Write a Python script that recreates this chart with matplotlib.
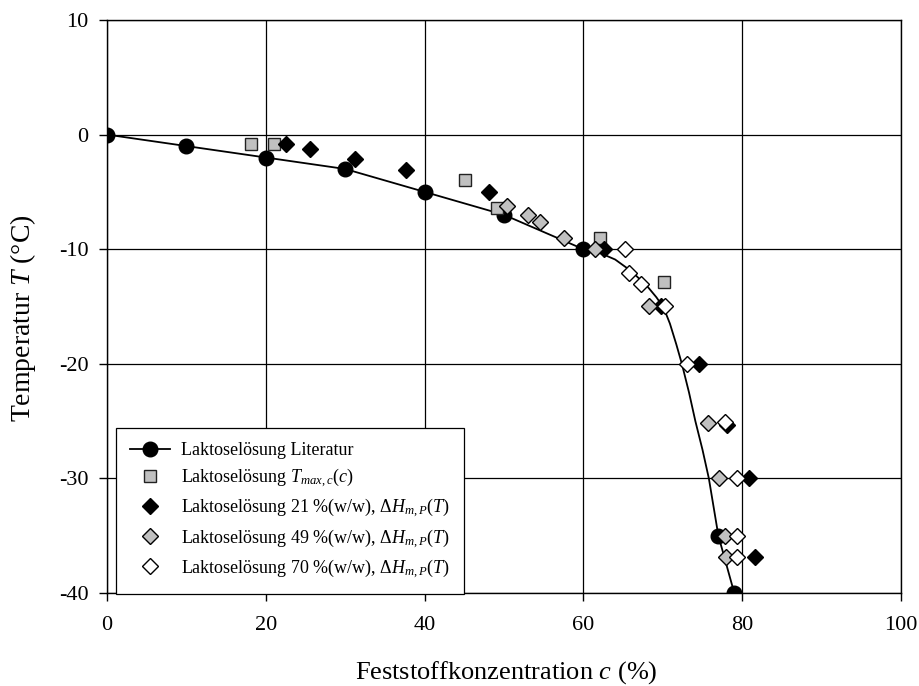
import matplotlib
matplotlib.use("Agg")
import matplotlib.pyplot as plt

plt.rcParams["font.family"] = ["Liberation Serif", "DejaVu Serif"]
plt.rcParams["mathtext.fontset"] = "custom"
plt.rcParams["mathtext.rm"] = "Liberation Serif"
plt.rcParams["mathtext.it"] = "Liberation Serif:italic"
plt.rcParams["axes.unicode_minus"] = False

# Literature values (circles) and the drawn curve through them
lit_c = [0, 10, 20, 30, 40, 50, 60, 77, 79]
lit_T = [0, -1, -2, -3, -5, -7, -10, -35, -40]
curve_c = [0, 10, 20, 30, 40, 50, 60, 62, 64, 66, 68, 69.2, 70.1, 70.9, 71.7,
           72.4, 73.3, 74.1, 75.0, 75.8, 76.4, 77.0, 77.8, 79]
curve_T = [0, -1, -2, -3, -5, -7, -10, -10.3, -10.9, -11.9, -13.2, -14.2, -15.1, -16.5, -18.3,
           -20, -22.5, -25, -27.5, -30, -32.5, -35, -37, -40]

# T_max,c(c)
sq_c = [18.1, 21.0, 45.1, 49.1, 62.1, 70.1]
sq_T = [-0.8, -0.8, -4.0, -6.4, -9.0, -12.9]

# 21 %(w/w)
d21_c = [22.5, 25.6, 31.2, 37.7, 48.1, 62.6, 69.8, 74.6, 78.1, 80.9, 81.6]
d21_T = [-0.8, -1.3, -2.1, -3.05, -5.0, -10.0, -15.0, -20.0, -25.3, -30.0, -36.9]

# 49 %(w/w)
d49_c = [50.4, 53.0, 54.5, 57.6, 61.4, 68.3, 75.7, 77.1, 77.8, 78.0]
d49_T = [-6.2, -7.0, -7.6, -9.0, -10.0, -15.0, -25.2, -30.0, -35.0, -36.9]

# 70 %(w/w)
d70_c = [65.2, 65.8, 67.2, 70.3, 73.1, 77.8, 79.3, 79.3, 79.3]
d70_T = [-10.0, -12.1, -13.0, -15.0, -20.0, -25.1, -30.0, -35.0, -36.9]

x_ticks = [0, 20, 40, 60, 80, 100]
y_ticks = [10, 0, -10, -20, -30, -40]

fig = plt.figure(figsize=(9.19, 6.86), dpi=100)
ax = fig.add_axes([107 / 919, 1 - 593 / 686, 794 / 919, 573 / 686])

ax.plot(curve_c, curve_T, color="black", lw=1.3, zorder=2)
ax.plot(lit_c, lit_T, "o", color="black", ms=10.5, zorder=3)
lit_handle, = ax.plot([], [], "o-", color="black", ms=10.5, lw=1.3)
sq_h, = ax.plot(sq_c, sq_T, "s", ms=8.5, mfc="#c0c0c0", mec="#222222", mew=1.0, ls="none", zorder=4)
d21_h, = ax.plot(d21_c, d21_T, "D", ms=8, mfc="black", mec="black", mew=1.0, ls="none", zorder=5)
d49_h, = ax.plot(d49_c, d49_T, "D", ms=8, mfc="#c0c0c0", mec="black", mew=1.0, ls="none", zorder=6)
d70_h, = ax.plot(d70_c, d70_T, "D", ms=8, mfc="white", mec="black", mew=1.0, ls="none", zorder=7)

ax.set_xlim(0, 100)
ax.set_ylim(-40, 10)
ax.set_xticks(x_ticks)
ax.set_yticks(y_ticks)
ax.grid(True, color="black", lw=0.9)
ax.set_axisbelow(True)
for s in ax.spines.values():
    s.set_color("black")
    s.set_linewidth(1.0)
ax.tick_params(direction="out", length=5.5, width=1.0, labelsize=16)
ax.tick_params(axis="x", pad=11)
ax.tick_params(axis="y", pad=8)

fig.text(506 / 919, 1 - 673 / 686, r"Feststoffkonzentration $c$ (%)", fontsize=19,
         ha="center", va="center")
fig.text(23 / 919, 1 - 318 / 686, r"Temperatur $T$ (°C)", fontsize=20,
         ha="center", va="center", rotation=90)

labels = [
    "Laktoselösung Literatur",
    r"Laktoselösung $T_{max,c}(c)$",
    r"Laktoselösung 21 %(w/w), $\Delta H_{m,P}(T)$",
    r"Laktoselösung 49 %(w/w), $\Delta H_{m,P}(T)$",
    r"Laktoselösung 70 %(w/w), $\Delta H_{m,P}(T)$",
]
leg = ax.legend([lit_handle, sq_h, d21_h, d49_h, d70_h], labels,
                loc="lower left", bbox_to_anchor=(0.011, -0.002), borderaxespad=0,
                fontsize=13, frameon=True, fancybox=False, framealpha=1,
                edgecolor="black", handlelength=2.2, labelspacing=0.4,
                borderpad=0.8, handletextpad=0.6)
leg.get_frame().set_linewidth(0.9)
leg.set_zorder(10)

fig.savefig("out.png", dpi=100)
